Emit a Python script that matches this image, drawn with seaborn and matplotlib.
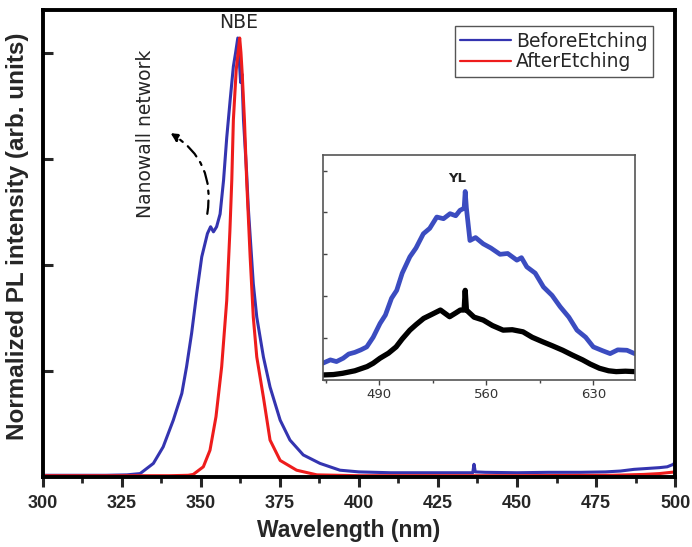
import matplotlib
matplotlib.use("Agg")
import matplotlib.pyplot as plt
import seaborn as sns
import pandas as pd
import numpy as np
from matplotlib.ticker import MultipleLocator, NullFormatter

# ---------------- data ----------------
before_wl = [300, 320, 326.6, 330.8, 335.0, 338.1, 341.3, 344.0, 345.5, 347.1, 348.7,
             350.3, 352.1, 353.1, 354.0, 355.0, 356.1, 357.2, 358.2, 359.3, 360.3,
             361.0, 361.7, 362.1, 362.6, 363.0, 363.5, 364.5, 365.0, 366.6, 367.7,
             369.8, 371.9, 375.1, 378.2, 382.4, 387.7, 394.0, 400, 410, 420, 430,
             436.0, 436.4, 436.8, 440, 450, 460, 470, 478, 482.7, 487, 491, 495,
             497.5, 499.5, 500]
before_val = [0.004, 0.004, 0.005, 0.008, 0.032, 0.071, 0.134, 0.197, 0.26, 0.339, 0.433,
              0.519, 0.574, 0.59, 0.578, 0.59, 0.62, 0.70, 0.80, 0.89, 0.968,
              1.0, 1.035, 0.99, 0.93, 0.95, 0.842, 0.716, 0.637, 0.456, 0.377,
              0.283, 0.212, 0.134, 0.087, 0.052, 0.032, 0.016, 0.012, 0.010, 0.010, 0.010,
              0.010, 0.030, 0.012, 0.011, 0.010, 0.011, 0.011, 0.012, 0.014, 0.018, 0.020, 0.022,
              0.024, 0.030, 0.036]

after_wl = [300, 340, 346.0, 347.6, 350.8, 352.9, 354.8, 356.6, 358.2, 359.2, 359.8,
            360.3, 361.2, 362.3, 362.7, 363.1, 363.8, 364.5, 365.6, 366.6, 367.7,
            369.8, 371.9, 375.1, 380.3, 386.7, 400, 450, 480, 490, 495, 500]
after_val = [0.003, 0.003, 0.004, 0.006, 0.024, 0.063, 0.142, 0.26, 0.416, 0.58, 0.70,
             0.842, 0.96, 1.035, 1.0, 0.95, 0.842, 0.70, 0.52, 0.377, 0.283,
             0.188, 0.087, 0.039, 0.016, 0.005, 0.003, 0.003, 0.004, 0.006, 0.008, 0.012]

inset_before_wl = [453, 458, 462, 466.4, 470, 474, 478, 481.8, 486, 490.5, 494, 498, 501.4,
                   505, 510, 514, 518.8, 523, 527.6, 532, 536.3, 540, 542.8, 545.5, 546.2,
                   547, 549.3, 553, 558, 563, 569, 574, 580, 583, 586.5, 592, 597.4, 603,
                   608.3, 614, 619.3, 625, 630, 636, 641, 646, 652, 657]
inset_before_val = [0.40, 0.48, 0.44, 0.52, 0.62, 0.66, 0.72, 0.79, 1.02, 1.35, 1.55, 1.95, 2.14,
                    2.55, 2.94, 3.15, 3.49, 3.62, 3.89, 3.85, 3.97, 3.92, 4.05, 4.10, 4.50,
                    4.10, 3.33, 3.40, 3.25, 3.15, 3.00, 3.02, 2.86, 2.92, 2.70, 2.55, 2.22, 2.02,
                    1.75, 1.50, 1.19, 1.02, 0.79, 0.70, 0.63, 0.72, 0.71, 0.63]

inset_after_wl = [453, 460, 466, 474, 482, 486, 490.5, 496, 501, 505, 510, 514, 519, 524,
                  530, 536, 540, 543, 545.5, 546.2, 547, 552, 558, 564, 571, 577, 584,
                  590, 597, 603, 610, 616, 623, 628, 634, 640, 645, 651, 657]
inset_after_val = [0.12, 0.13, 0.16, 0.22, 0.32, 0.40, 0.52, 0.64, 0.79, 0.98, 1.19, 1.32, 1.47, 1.56,
                   1.67, 1.51, 1.60, 1.67, 1.67, 2.14, 1.67, 1.50, 1.43, 1.30, 1.19, 1.20, 1.15,
                   1.02, 0.91, 0.82, 0.71, 0.60, 0.48, 0.38, 0.28, 0.22, 0.20, 0.21, 0.20]

x_ticks = [300, 325, 350, 375, 400, 425, 450, 475, 500]
inset_x_ticks = [490, 560, 630]

legend_labels = ["BeforeEtching", "AfterEtching"]

# ---------------- style ----------------
sns.set_style("ticks")
plt.rcParams["font.family"] = ["Liberation Sans", "DejaVu Sans"]

BLUE = "#3434b0"
RED = "#ee1c1c"
INSET_BLUE = "#3b4cc0"

fig = plt.figure(figsize=(6.92, 5.47), dpi=100)
ax = fig.add_axes([0.0617, 0.128, 0.9139, 0.8537])

df_b = pd.DataFrame({"wl": before_wl, "val": before_val})
df_a = pd.DataFrame({"wl": after_wl, "val": after_val})
sns.lineplot(data=df_b, x="wl", y="val", ax=ax, color=BLUE, linewidth=2.2,
             estimator=None, sort=False, label=legend_labels[0])
sns.lineplot(data=df_a, x="wl", y="val", ax=ax, color=RED, linewidth=2.2,
             estimator=None, sort=False, label=legend_labels[1])

ax.set_xlim(300, 500)
ax.set_ylim(0, 1.101)
ax.set_xticks(x_ticks)
ax.xaxis.set_minor_locator(MultipleLocator(12.5))
ax.set_yticks([0.25, 0.5, 0.75, 1.0])
ax.yaxis.set_major_formatter(NullFormatter())
ax.tick_params(axis="x", which="major", direction="out", length=7, width=2.2,
               labelsize=13, pad=6)
ax.tick_params(axis="x", which="minor", direction="out", length=4.5, width=2.0)
ax.tick_params(axis="y", which="major", direction="in", length=7, width=2.2, left=True)
for lab in ax.get_xticklabels():
    lab.set_fontweight("bold")
for sp in ax.spines.values():
    sp.set_visible(True)
    sp.set_linewidth(2.8)
    sp.set_color("black")

ax.set_xlabel("Wavelength (nm)", fontsize=16.5, fontweight="bold")
ax.xaxis.set_label_coords(0.484, -0.09)
ax.set_ylabel("Normalized PL intensity (arb. units)", fontsize=17.5, fontweight="bold")
ax.yaxis.set_label_coords(-0.022, 0.515)

leg = ax.legend(loc="upper right", bbox_to_anchor=(0.965, 0.966), borderaxespad=0,
                frameon=True, fancybox=False, edgecolor="#555555", framealpha=1,
                prop={"family": "DejaVu Sans", "size": 13.5}, handlelength=2.7,
                handletextpad=0.25, borderpad=0.3, labelspacing=0.1)
leg.get_frame().set_linewidth(1.0)
for line in leg.get_lines():
    line.set_linewidth(1.6)

ax.text(362.0, 1.072, "NBE", ha="center", va="center", fontsize=13.5,
        family="DejaVu Sans")
ax.text(332.5, 0.81, "Nanowall network", ha="center", va="center", rotation=90,
        fontsize=13.5, family="DejaVu Sans")
ax.annotate("", xy=(339.7, 0.814), xytext=(351.9, 0.614),
            arrowprops=dict(arrowstyle="-|>", linestyle=(0, (6, 3, 1.5, 3)), color="black",
                            lw=1.6, connectionstyle="arc3,rad=0.35", mutation_scale=12))

# ---------------- inset ----------------
ins = fig.add_axes([0.4668, 0.3053, 0.4509, 0.4113])
df_ib = pd.DataFrame({"wl": inset_before_wl, "val": inset_before_val})
df_ia = pd.DataFrame({"wl": inset_after_wl, "val": inset_after_val})
sns.lineplot(data=df_ib, x="wl", y="val", ax=ins, color=INSET_BLUE, linewidth=3.4,
             estimator=None, sort=False, legend=False)
sns.lineplot(data=df_ia, x="wl", y="val", ax=ins, color="black", linewidth=3.8,
             estimator=None, sort=False, legend=False)
ins.set_xlim(453.2, 657.3)
ins.set_ylim(0, 5.37)
ins.set_xticks(inset_x_ticks)
ins.xaxis.set_minor_locator(MultipleLocator(35))
ins.set_yticks([0, 1, 2, 3, 4, 5])
ins.yaxis.set_major_formatter(NullFormatter())
ins.set_xlabel("")
ins.set_ylabel("")
ins.tick_params(axis="x", which="major", direction="out", length=3.5, width=1.0,
                labelsize=9.5, labelcolor="#333333", color="#444444", pad=2)
ins.tick_params(axis="x", which="minor", direction="out", length=2.5, width=1.0,
                color="#444444")
ins.tick_params(axis="y", direction="in", length=3, width=1.0, color="#444444")
for lab in ins.get_xticklabels():
    lab.set_family("DejaVu Sans")
for sp in ins.spines.values():
    sp.set_visible(True)
    sp.set_linewidth(1.2)
    sp.set_color("#555555")
ins.text(540.7, 4.81, "YL", ha="center", va="center", fontsize=9.5,
         fontweight="bold", family="DejaVu Sans", color="#222222")

fig.savefig("out.png", dpi=100)
